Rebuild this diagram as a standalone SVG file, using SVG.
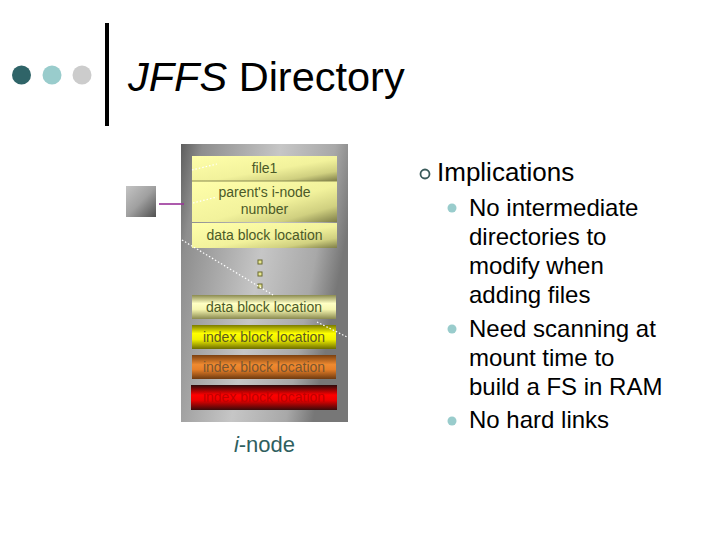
<svg xmlns="http://www.w3.org/2000/svg" width="720" height="540" viewBox="0 0 720 540">
<style>
.t{font-family:"Liberation Sans",Arial,sans-serif}
.bar{font-family:"Liberation Sans",Arial,sans-serif;font-size:14px;text-anchor:middle;fill:#4b5a28}
.sub{font-family:"Liberation Sans",Arial,sans-serif;font-size:24px;fill:#000}
.dot{fill:#99cccc}
.dash{stroke:#ffffff;stroke-width:1.2;stroke-dasharray:1.5 2;fill:none}
.sq{fill:#e8e890;stroke:#6b6b30;stroke-width:1}
</style>
<defs>
<linearGradient id="panel" x1="0" y1="0" x2="1" y2="0.3">
<stop offset="0" stop-color="#5e5e5e"/>
<stop offset="0.12" stop-color="#8e8e8e"/>
<stop offset="0.55" stop-color="#c6c6c6"/>
<stop offset="0.85" stop-color="#a8a8a8"/>
<stop offset="1" stop-color="#777777"/>
</linearGradient>
<linearGradient id="pale" x1="0" y1="0" x2="1" y2="1">
<stop offset="0" stop-color="#ffffaa"/>
<stop offset="0.55" stop-color="#f2f29c"/>
<stop offset="0.8" stop-color="#d0d080"/>
<stop offset="1" stop-color="#7e7e48"/>
</linearGradient>
<linearGradient id="cylPale" x1="0" y1="0" x2="0" y2="1">
<stop offset="0" stop-color="#8a8a50"/>
<stop offset="0.35" stop-color="#ffffc4"/>
<stop offset="0.6" stop-color="#f6f6b0"/>
<stop offset="1" stop-color="#8a8a50"/>
</linearGradient>
<linearGradient id="cylYel" x1="0" y1="0" x2="0" y2="1">
<stop offset="0" stop-color="#7a7a00"/>
<stop offset="0.35" stop-color="#ffff00"/>
<stop offset="0.6" stop-color="#f2f200"/>
<stop offset="1" stop-color="#6e6e00"/>
</linearGradient>
<linearGradient id="cylOr" x1="0" y1="0" x2="0" y2="1">
<stop offset="0" stop-color="#7a4010"/>
<stop offset="0.4" stop-color="#f08a30"/>
<stop offset="0.6" stop-color="#e88028"/>
<stop offset="1" stop-color="#6e3a10"/>
</linearGradient>
<linearGradient id="cylRed" x1="0" y1="0" x2="0" y2="1">
<stop offset="0" stop-color="#2a0a0a"/>
<stop offset="0.4" stop-color="#ff0000"/>
<stop offset="0.6" stop-color="#f00000"/>
<stop offset="1" stop-color="#3a0a0a"/>
</linearGradient>
<linearGradient id="gsq" x1="0" y1="0" x2="1" y2="1">
<stop offset="0" stop-color="#c4c4c4"/>
<stop offset="0.5" stop-color="#a0a0a0"/>
<stop offset="1" stop-color="#505050"/>
</linearGradient>
</defs>
<rect width="720" height="540" fill="#ffffff"/>

<g id="title">
<circle cx="21.5" cy="75" r="9.5" fill="#2f6468"/>
<circle cx="52" cy="75" r="9.5" fill="#99cccc"/>
<circle cx="82" cy="75" r="9.5" fill="#cccccc"/>
<rect x="105" y="23" width="4" height="103" fill="#000"/>
<text class="t" x="128" y="91" font-size="41.5" fill="#000"><tspan font-style="italic">JFFS</tspan> Directory</text>
</g>

<g id="inode">
<rect x="181" y="144" width="167" height="278" fill="url(#panel)"/>
</g>

<g id="square">
<rect x="126" y="186" width="30" height="31" fill="url(#gsq)"/>
</g>

<g id="file1">
<rect x="192" y="156" width="145" height="25" fill="url(#pale)"/>
<text class="bar" x="264.5" y="173">file1</text>
</g>
<g id="parent">
<rect x="192" y="181" width="145" height="41" fill="url(#pale)"/>
<line x1="192" y1="181" x2="337" y2="181" stroke="#8a8a50" stroke-width="1"/>
<text class="bar" x="264.5" y="197">parent's i-node</text>
<text class="bar" x="264.5" y="214">number</text>
</g>
<g id="data1">
<rect x="192" y="223" width="145" height="25" fill="url(#pale)"/>
<text class="bar" x="264.5" y="240">data block location</text>
</g>

<g id="ellipsis">
<rect class="sq" x="258" y="260" width="4" height="4"/>
<rect class="sq" x="258" y="272" width="4" height="4"/>
<rect class="sq" x="258" y="284" width="4" height="4"/>
</g>

<g id="data2">
<rect x="192" y="295" width="144" height="24" fill="url(#cylPale)"/>
<text class="bar" x="264" y="312">data block location</text>
</g>
<g id="index1">
<rect x="192" y="325" width="144" height="24" fill="url(#cylYel)"/>
<text class="bar" x="264" y="342" style="fill:#5a5a20">index block location</text>
</g>
<g id="index2">
<rect x="192" y="355" width="144" height="24" fill="url(#cylOr)"/>
<text class="bar" x="264" y="372" style="fill:#7a5530">index block location</text>
</g>
<g id="index3">
<rect x="191" y="385" width="146" height="25" fill="url(#cylRed)"/>
<text class="bar" x="264" y="402" style="fill:#c00000">index block location</text>
</g>

<g id="inode-label">
<text class="t" x="264.5" y="452" font-size="22" text-anchor="middle" fill="#2f5f5f"><tspan font-style="italic">i</tspan>-node</text>
</g>

<g id="connectors">
<line x1="159" y1="204" x2="184" y2="204" stroke="#993399" stroke-width="1.6"/>
<line class="dash" x1="192" y1="170" x2="217" y2="164"/>
<line class="dash" x1="193" y1="203" x2="217" y2="197"/>
<line class="dash" x1="182" y1="240" x2="273" y2="295"/>
<line class="dash" x1="317" y1="322" x2="347" y2="337"/>
</g>

<g id="implications">
<circle cx="425" cy="174" r="4.5" fill="none" stroke="#3a5a5a" stroke-width="1.8"/>
<text class="t" x="437" y="181" font-size="26" fill="#000">Implications</text>
<circle class="dot" cx="452" cy="208" r="4.5"/>
<text class="sub" x="469" y="216">No intermediate</text>
<text class="sub" x="469" y="245">directories to</text>
<text class="sub" x="469" y="274">modify when</text>
<text class="sub" x="469" y="303">adding files</text>
<circle class="dot" cx="452" cy="329" r="4.5"/>
<text class="sub" x="469" y="337">Need scanning at</text>
<text class="sub" x="469" y="366">mount time to</text>
<text class="sub" x="469" y="395">build a FS in RAM</text>
<circle class="dot" cx="452" cy="421" r="4.5"/>
<text class="sub" x="469" y="428">No hard links</text>
</g>
</svg>
